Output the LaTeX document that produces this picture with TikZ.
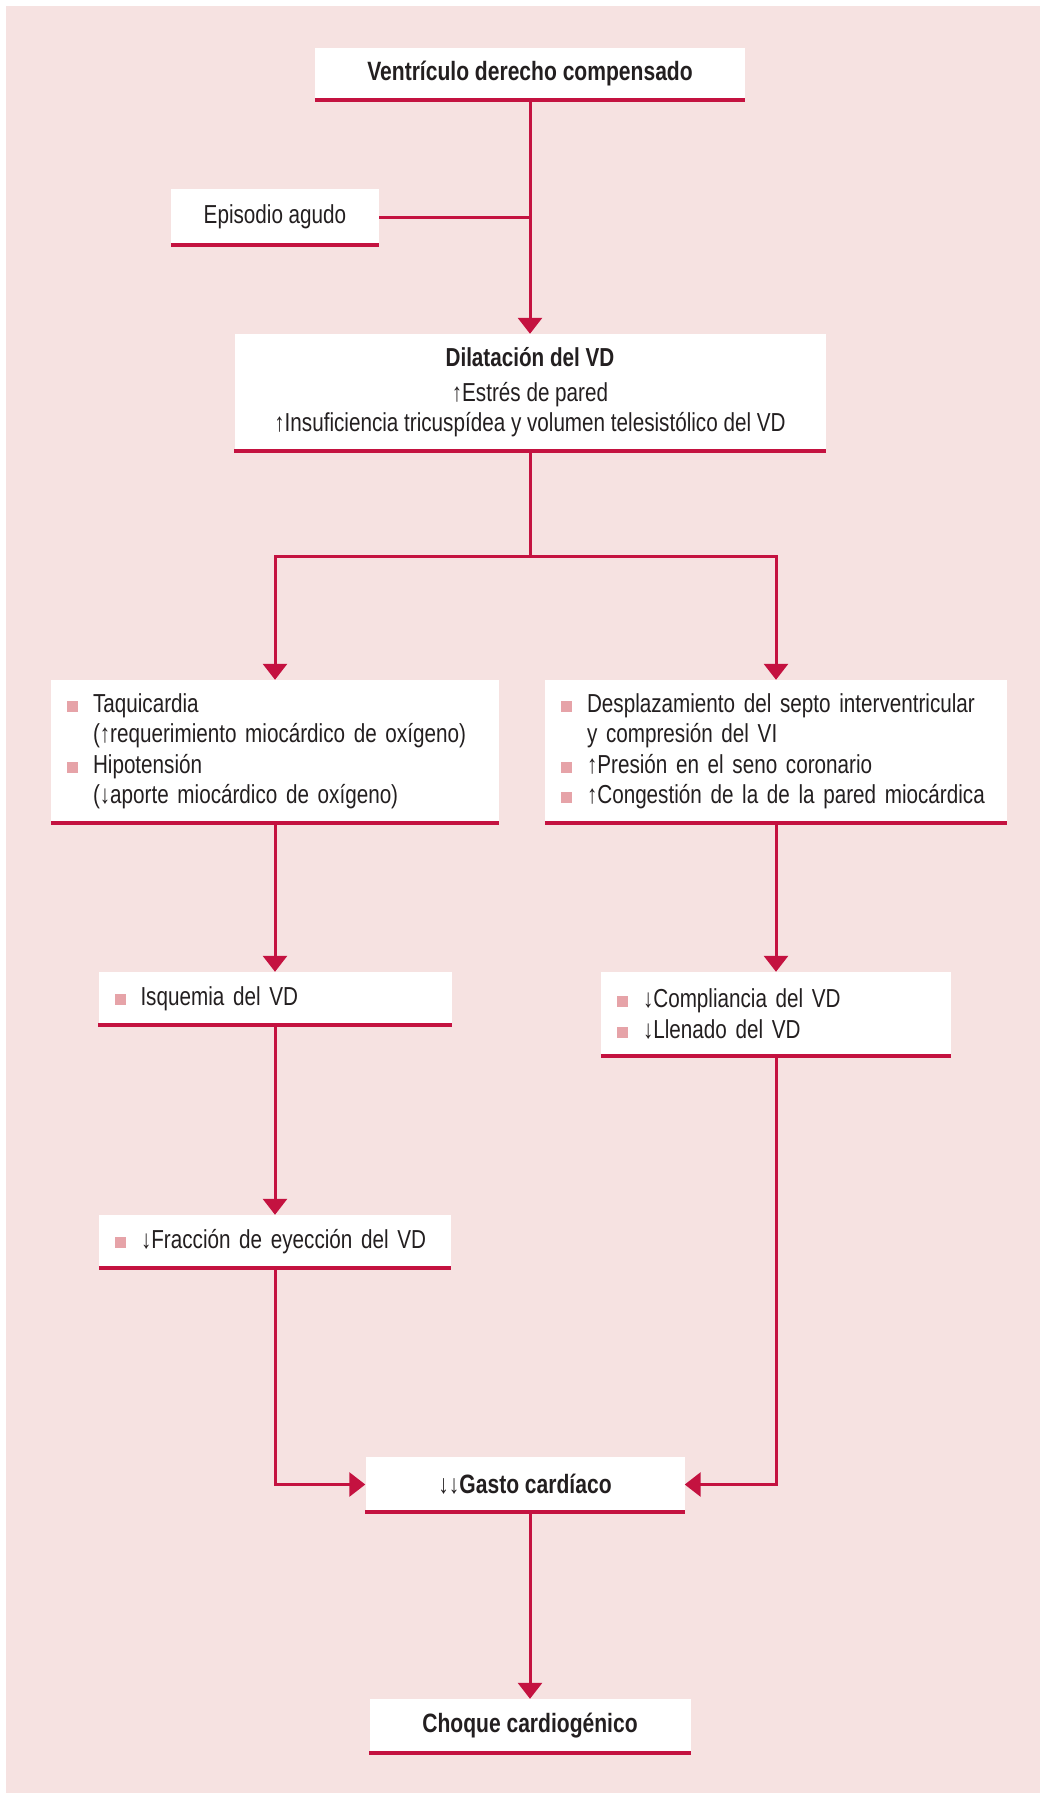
\documentclass[tikz,border=0pt]{standalone}
\usepackage{fontspec}
\setmainfont{Liberation Sans}[FakeStretch=0.795]
\usetikzlibrary{arrows.meta}
\definecolor{bgpink}{HTML}{F6E2E1}
\definecolor{crimson}{HTML}{C41240}
\definecolor{bulletpink}{HTML}{E6A3A8}
\definecolor{ink}{HTML}{231F20}
% square bullet and matching hanging indent
\newcommand\bul{\makebox[26pt][l]{\textcolor{bulletpink}{\rule[0.5pt]{11pt}{11pt}}}}
\newcommand\hang{\hspace*{26pt}}
\begin{document}
\begin{tikzpicture}[x=1pt,y=-1pt,
  txt/.style={font=\fontsize{26}{30.5}\selectfont, text=ink},
  box/.style={txt, fill=white, inner sep=0pt, align=center},
  boldbox/.style={box, font=\fontsize{26.5}{30.5}\selectfont\bfseries},
  listbox/.style={txt, fill=white, inner xsep=16pt, inner ysep=0pt, align=left},
  link/.style={draw=crimson, line width=3pt},
  arr/.style={link, -{Triangle[width=24pt,length=16pt]}},
  underbar/.style={draw=crimson, line width=3.5pt}]

% page and background
\fill[white] (0,0) rectangle (1040,1793);
\fill[bgpink] (6,6) rectangle (1040,1793);
\useasboundingbox (0,0) rectangle (1040,1793);

% boxes
\node[boldbox, minimum width=430pt, minimum height=52pt] (vdc) at (530,74) {Ventrículo derecho compensado};
\node[box, minimum width=208pt, minimum height=56pt] (epi) at (275,217) {Episodio agudo};
\node[box, minimum width=591pt, minimum height=117pt] (dil) at (530,392.5)
  {\textbf{Dilatación del VD}\\[4pt]↑Estrés de pared\\↑Insuficiencia tricuspídea y volumen telesistólico del VD};
\node[listbox, text width=416pt, minimum height=143pt] (taq) at (275,751.5)
  {\bul Taquicardia\\\hang(↑requerimiento miocárdico de oxígeno)\\\bul Hipotensión\\\hang(↓aporte miocárdico de oxígeno)};
\node[listbox, text width=430pt, minimum height=143pt] (des) at (776,751.5)
  {\bul Desplazamiento del septo interventricular\\\hang y compresión del VI\\\bul ↑Presión en el seno coronario\\\bul ↑Congestión de la de la pared miocárdica};
\node[listbox, text width=321pt, minimum height=53pt] (isq) at (275,998.5)
  {\bul Isquemia del VD};
\node[listbox, text width=318pt, minimum height=84pt] (com) at (776,1014)
  {\bul ↓Compliancia del VD\\\bul ↓Llenado del VD};
\node[listbox, text width=320pt, minimum height=53pt] (fra) at (275,1241.5)
  {\bul ↓Fracción de eyección del VD};
\node[boldbox, minimum width=319pt, minimum height=55pt] (gas) at (525,1484.5) {↓↓Gasto cardíaco};
\node[boldbox, minimum width=321pt, minimum height=54pt] (cho) at (530,1726) {Choque cardiogénico};

% crimson rule under each box
\foreach \n in {vdc,epi,dil,taq,des,isq,com,fra,gas,cho}
  \draw[underbar] (\n.south west) -- (\n.south east);

% connectors
\draw[arr] (vdc.south) -- (dil.north);
\draw[link] (epi.east) -- (vdc.south |- epi.east);
\coordinate (split) at (530,556);
\draw[link] (dil.south) -- (split);
\draw[arr] (split) -| (taq.north);
\draw[arr] (split) -| (des.north);
\draw[arr] (taq.south) -- (isq.north);
\draw[arr] (des.south) -- (com.north);
\draw[arr] (isq.south) -- (fra.north);
\draw[arr] (fra.south) |- (gas.west);
\draw[arr] (com.south) |- (gas.east);
\draw[arr] (cho.north |- gas.south) -- (cho.north);
\end{tikzpicture}
\end{document}
